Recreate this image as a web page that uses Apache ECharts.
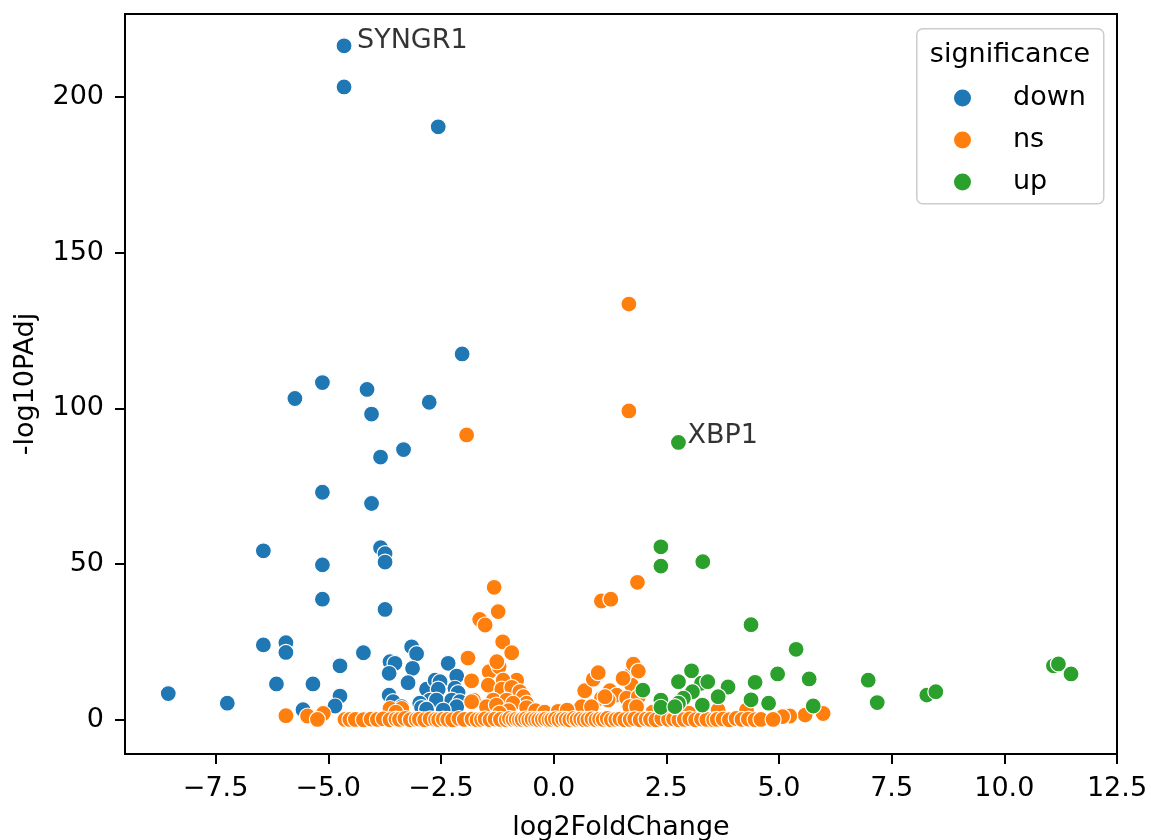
<!DOCTYPE html>
<html>
<head>
<meta charset="utf-8">
<script src="https://cdn.jsdelivr.net/npm/echarts@6/dist/echarts.min.js"></script>
<style>
html,body{margin:0;padding:0;background:#fff;}
#chart{width:1151px;height:840px;}
</style>
</head>
<body>
<div id="chart"></div>
<script>
// ---- data ----
const categories = ['down', 'ns', 'up'];
const xTicks = [-7.5, -5.0, -2.5, 0.0, 2.5, 5.0, 7.5, 10.0, 12.5];
const yTicks = [0, 50, 100, 150, 200];

const downX = [-4.65,-4.65,-2.56,-2.03,-5.13,-5.74,-4.14,-4.04,-2.76,-3.84,-3.33,-5.13,-4.04,-6.44,-3.84,-3.74,-3.74,-5.13,-5.13,-3.74,
  -6.44,-5.94,-5.94,-4.22,-3.15,-3.04,-6.15,-5.34,-4.74,-4.74,-4.85,-8.55,-7.24,-5.56,-3.63,-3.52,-3.65,-3.13,-3.23,-2.34,
  -2.15,-3.65,-3.56,-3.37,-2.82,-2.63,-2.52,-2.56,-2.74,-2.60,-2.97,-2.19,-2.12,-2.26,-2.08,-2.15,-2.93,-2.82,-3.45,-2.45];
const downY = [216.4,203.2,190.4,117.5,108.3,103.2,106.1,98.2,102.0,84.4,86.8,73.1,69.5,54.3,55.3,53.4,50.7,49.8,38.8,35.5,
  24.1,24.8,21.7,21.6,23.5,21.3,11.6,11.6,17.4,7.7,4.5,8.5,5.4,3.3,18.7,18.2,15.0,16.6,12.0,18.2,
  14.1,8.0,5.9,4.3,9.9,12.8,12.3,9.9,6.4,6.4,5.4,10.2,8.8,6.4,5.9,4.3,4.0,3.5,3.0,3.2];

const nsX = [-1.93,1.67,1.67,1.86,1.06,1.27,-1.32,-1.23,-1.64,-1.52,-1.13,-0.93,-1.90,-1.82,-1.43,-1.21,-1.26,-0.82,-1.45,-1.12,
  -1.15,-0.93,-0.75,-0.67,-0.60,-1.78,-1.34,-1.04,-0.90,-1.49,-1.27,-0.60,-1.82,-3.63,-3.37,0.69,0.88,0.99,1.66,1.77,
  1.88,1.73,1.25,1.40,1.06,1.21,1.62,1.88,0.62,0.84,1.69,1.84,1.54,1.14,3.65,4.28,5.98,5.58,5.24,5.08,
  -5.94,-5.46,-5.11,-5.24,-4.63,-4.52,-0.40,-0.20,0.10,0.30,-1.00,-1.20,-3.50,2.20,2.60,3.00,
  -4.40,-4.22,-4.05,-3.91,-3.78,-3.63,-3.50,-3.42,-3.30,-3.18,-3.05,-2.98,-2.86,-2.74,-2.62,-2.55,-2.45,-2.35,-2.24,-2.10,
  -1.98,-1.81,-1.70,-1.60,-1.52,-1.41,-1.30,-1.18,-1.05,-0.98,-0.90,-0.83,-0.76,-0.70,-0.62,-0.55,-0.48,-0.40,-0.33,-0.25,
  -0.18,-0.10,-0.04,0.04,0.12,0.20,0.28,0.36,0.45,0.52,0.60,0.68,0.76,0.85,0.94,1.02,1.10,1.19,1.28,1.38,
  1.47,1.58,1.70,1.80,1.92,2.05,2.15,2.27,2.40,2.55,2.66,2.78,2.90,3.02,3.15,3.28,3.40,3.55,3.63,3.76,
  3.90,4.05,4.18,4.32,4.47,4.60,4.87];
const nsY = [91.5,133.5,99.2,44.2,38.2,38.8,42.6,34.8,32.3,30.5,25.1,21.6,19.9,12.6,15.5,17.1,18.7,12.8,11.2,12.8,
  9.9,10.5,9.1,7.5,5.4,6.4,6.4,6.4,5.4,4.3,4.8,4.0,5.9,3.7,3.7,9.4,13.1,15.2,14.1,17.9,
  15.7,11.2,9.4,8.0,7.0,6.4,7.0,7.5,4.3,4.3,4.3,4.3,13.4,7.5,3.2,3.2,2.1,1.6,1.3,1.1,
  1.4,1.3,2.1,0.2,0.2,0.2,3.0,2.5,2.8,3.2,3.0,2.2,2.5,2.5,3.0,2.2,
  0.2,0.1,0.3,0.2,0.4,0.1,0.3,0.2,0.5,0.1,0.2,0.3,0.1,0.4,0.2,0.1,0.3,0.2,0.1,0.5,
  0.2,0.3,0.1,0.2,0.4,0.1,0.3,0.2,0.1,0.5,0.2,0.3,0.1,0.2,0.4,0.1,0.3,0.2,0.1,0.2,
  0.3,0.1,0.2,0.4,0.1,0.3,0.2,0.1,0.5,0.2,0.3,0.1,0.2,0.4,0.1,0.3,0.2,0.5,0.1,0.2,
  0.3,0.1,0.2,0.4,0.1,0.3,0.2,0.1,0.5,0.2,0.3,0.1,0.2,0.4,0.1,0.3,0.2,0.1,0.2,0.3,
  0.1,0.5,0.2,0.3,0.1,0.2,0.2];

const upX = [2.77,2.38,2.38,3.31,4.38,5.38,3.06,2.77,3.28,3.42,3.87,4.47,4.97,3.08,2.88,2.77,3.65,4.38,4.77,3.30,
  2.38,2.38,1.98,2.69,5.67,6.98,7.18,8.28,8.48,11.09,11.20,11.48,5.76];
const upY = [89.1,55.6,49.4,50.8,30.6,22.7,15.8,12.3,11.8,12.3,10.6,12.1,14.8,9.1,7.0,5.4,7.5,6.5,5.4,4.8,
  6.4,4.1,9.6,4.3,13.2,12.8,5.6,8.0,9.1,17.4,18.0,14.8,4.5];

const annoGene = ['SYNGR1', 'XBP1'];
const annoX = [-4.65, 2.77];
const annoY = [216.4, 89.1];

// ---- chart ----
const FONT = 'DejaVu Sans';
const colors = {down: '#1f77b4', ns: '#ff7f0e', up: '#2ca02c'};
const zip = (xs, ys) => xs.map((x, i) => [x, ys[i]]);
const fmt = v => (v < 0 ? '\u2212' : '') + Math.abs(v).toFixed(1);

const chart = echarts.init(document.getElementById('chart'), null, {renderer: 'canvas'});

function pointSeries(name, xs, ys) {
  return {
    name: name, type: 'scatter', data: zip(xs, ys),
    symbol: 'circle', symbolSize: 16,
    itemStyle: {color: colors[name], borderColor: '#fff', borderWidth: 1.2, opacity: 1},
    emphasis: {disabled: true}, animation: false
  };
}

const annoOffsets = [[13, -5], [9, -6]];

const option = {
  animation: false,
  grid: {left: 125, right: 34, top: 14, bottom: 86, show: true, borderColor: '#000', borderWidth: 2,
         backgroundColor: 'transparent', containLabel: false, outerBoundsMode: 'none'},
  xAxis: {
    type: 'value', min: -9.51, max: 12.5,
    name: 'log2FoldChange', nameLocation: 'middle', nameGap: 60,
    nameTextStyle: {fontFamily: FONT, fontSize: 27, color: '#000'},
    axisLine: {show: true, onZero: false, lineStyle: {color: '#000', width: 2}},
    axisTick: {show: true, inside: false, length: 10, lineStyle: {color: '#000', width: 2}, customValues: xTicks},
    axisLabel: {show: true, margin: 21, fontFamily: FONT, fontSize: 27, color: '#000', customValues: xTicks, formatter: fmt},
    splitLine: {show: false}
  },
  yAxis: {
    type: 'value', min: -10.9, max: 226.6,
    name: '-log10PAdj', nameLocation: 'middle', nameGap: 86, nameRotate: 90,
    nameTextStyle: {fontFamily: FONT, fontSize: 27, color: '#000'},
    axisLine: {show: true, onZero: false, lineStyle: {color: '#000', width: 2}},
    axisTick: {show: true, inside: false, length: 10, lineStyle: {color: '#000', width: 2}, customValues: yTicks},
    axisLabel: {show: true, margin: 21, fontFamily: FONT, fontSize: 27, color: '#000', customValues: yTicks, formatter: v => String(v)},
    splitLine: {show: false}
  },
  legend: {
    data: categories.map(c => ({name: c, icon: 'circle'})),
    orient: 'vertical', left: 947, top: 78, z: 20,
    itemWidth: 19, itemHeight: 19, itemGap: 12,
    textStyle: {fontFamily: FONT, fontSize: 27, color: '#000', lineHeight: 30, padding: [0, 0, 0, 36]},
    selectedMode: false
  },
  graphic: [
    {type: 'rect', left: 916, top: 28, z: 1, shape: {width: 187, height: 175, r: 6},
     style: {fill: 'rgba(255,255,255,0.8)', stroke: '#cccccc', lineWidth: 1.5}},
    {type: 'text', x: 1010, y: 55, z: 21,
     style: {text: 'significance', fontFamily: FONT, fontSize: 27, fill: '#000', align: 'center', verticalAlign: 'middle'}}
  ],
  series: [
    pointSeries('down', downX, downY),
    pointSeries('ns', nsX, nsY),
    pointSeries('up', upX, upY),
    {
      name: 'labels', type: 'scatter', symbolSize: 0, silent: true,
      data: annoGene.map((g, i) => ({
        name: g, value: [annoX[i], annoY[i]],
        label: {show: true, position: 'right', distance: annoOffsets[i][0], offset: [0, annoOffsets[i][1]],
                formatter: '{b}', fontFamily: FONT, fontSize: 27, color: '#000'}
      })),
      z: 10
    }
  ]
};
chart.setOption(option);
</script>
</body>
</html>
